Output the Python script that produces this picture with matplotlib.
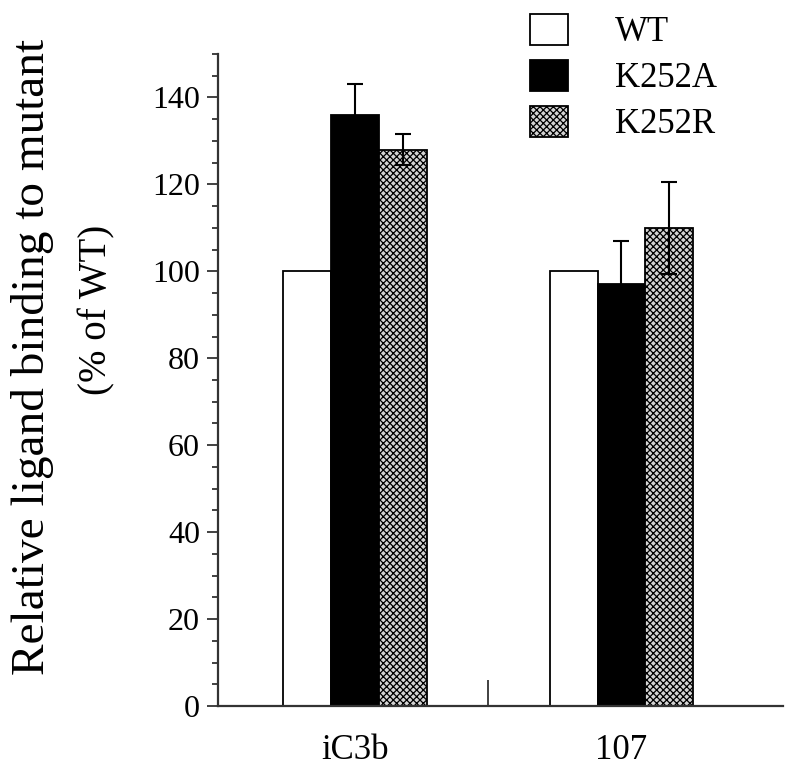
import numpy as np
import matplotlib
matplotlib.use('Agg')
import matplotlib.pyplot as plt
from matplotlib.patches import Patch

plt.rcParams['font.family'] = ['Liberation Serif', 'DejaVu Serif']
plt.rcParams['hatch.linewidth'] = 0.9

groups = ['iC3b', '107']
series = ['WT', 'K252A', 'K252R']
values = {'WT': [100, 100], 'K252A': [136, 97], 'K252R': [128, 110]}
errors = {'WT': [0, 0], 'K252A': [7, 10], 'K252R': [3.5, 10.5]}

faces = {'WT': 'white', 'K252A': 'black', 'K252R': '#d4d4d4'}
hatches = {'WT': None, 'K252A': None, 'K252R': 'xxxxx'}

fig = plt.figure(figsize=(8, 7.77), dpi=100)
ax = fig.add_axes([218/800, 1-706/777, (783-218)/800, (706-54)/777])

x = np.arange(len(groups))
w = 0.18
for i, s in enumerate(series):
    xs = x + (i - 1) * w
    ax.bar(xs, values[s], w, color=faces[s], edgecolor='black', linewidth=1.3,
           hatch=hatches[s], zorder=2)
    if s != 'WT':
        ax.errorbar(xs, values[s], yerr=errors[s], fmt='none', ecolor='black',
                    elinewidth=1.5, capsize=5.5, capthick=1.5, zorder=3)

ax.set_xlim(-0.514, 1.606)
ax.set_ylim(0, 150)
ax.set_yticks(np.arange(0, 141, 20))
ax.set_yticks(np.arange(0, 151, 5), minor=True)
ax.set_xticks(x)
ax.set_xticklabels(groups, fontsize=25)
ax.set_xticks([0.5], minor=True)
ax.tick_params(axis='x', which='major', length=0, pad=20)
ax.tick_params(axis='x', which='minor', direction='in', length=19, width=1.3, color='#333333')
ax.tick_params(axis='y', which='major', length=8, width=1.3, labelsize=23, pad=5, color='#333333')
ax.tick_params(axis='y', which='minor', length=4, width=1.3, color='#333333')

for side in ['top', 'right']:
    ax.spines[side].set_visible(False)
for side in ['left', 'bottom']:
    ax.spines[side].set_linewidth(1.6)
    ax.spines[side].set_color('#333333')

fig.text(33/800, 1-357/777, 'Relative ligand binding to mutant', rotation=90,
         ha='center', va='center', fontsize=34)
fig.text(97/800, 1-310/777, '(% of WT)', rotation=90,
         ha='center', va='center', fontsize=28)

handles = [Patch(facecolor=faces[s], edgecolor='black', linewidth=1.3, hatch=hatches[s])
           for s in series]
fig.legend(handles, series, loc='upper left', bbox_to_anchor=(530/800, 1-14/777),
           frameon=False, fontsize=25, handlelength=1.1, handleheight=1.0,
           handletextpad=1.35, labelspacing=0.3, borderpad=0, borderaxespad=0)

plt.savefig('out.png', dpi=100)
